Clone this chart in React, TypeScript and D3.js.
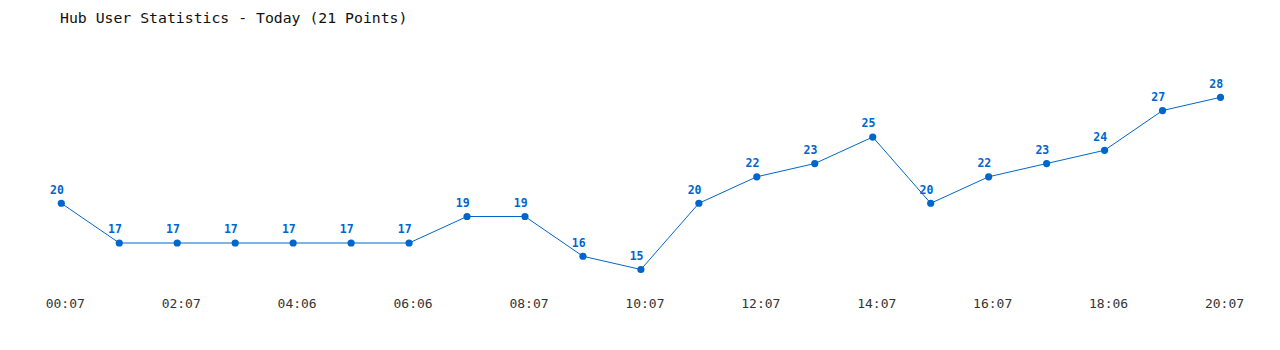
import React from "react";
import * as d3 from "d3";

const title = "Hub User Statistics - Today (21 Points)";
const userCounts = [20, 17, 17, 17, 17, 17, 17, 19, 19, 16, 15, 20, 22, 23, 25, 20, 22, 23, 24, 27, 28];
const tickLabels = ["00:07", "02:07", "04:06", "06:06", "08:07", "10:07", "12:07", "14:07", "16:07", "18:06", "20:07"];
const tickEvery = 2;

const W = 1280;
const H = 350;
const BLUE = "#0066cc";
const MONO = "'DejaVu Sans Mono', 'Liberation Mono', monospace";

export default function App() {
  const x = d3.scaleLinear().domain([0, userCounts.length - 1]).range([61.3, 1220.5]);
  const y = d3.scaleLinear().domain([15, 28]).range([269.5, 97.3]);
  const line = d3
    .line<number>()
    .x((_, i) => x(i))
    .y((d) => y(d));

  return (
    <svg
      width={W}
      height={H}
      style={{ position: "absolute", left: 0, top: 0, background: "#fff" }}
    >
      <text x={60} y={23} fontFamily={MONO} fontSize={14.8} fill="#111">
        {title}
      </text>
      <path d={line(userCounts) || ""} fill="none" stroke={BLUE} strokeWidth={1} />
      {userCounts.map((v, i) => (
        <g key={i}>
          <circle cx={x(i)} cy={y(v)} r={3.6} fill={BLUE} />
          <text
            x={x(i) - 4.3}
            y={y(v) - 9.6}
            textAnchor="middle"
            fontFamily={MONO}
            fontWeight="bold"
            fontSize={11.5}
            fill={BLUE}
          >
            {v}
          </text>
        </g>
      ))}
      {tickLabels.map((t, k) => (
        <text
          key={t}
          x={x(k * tickEvery) + 4}
          y={308}
          textAnchor="middle"
          fontFamily={MONO}
          fontSize={13}
          fill="#333"
        >
          {t}
        </text>
      ))}
    </svg>
  );
}
